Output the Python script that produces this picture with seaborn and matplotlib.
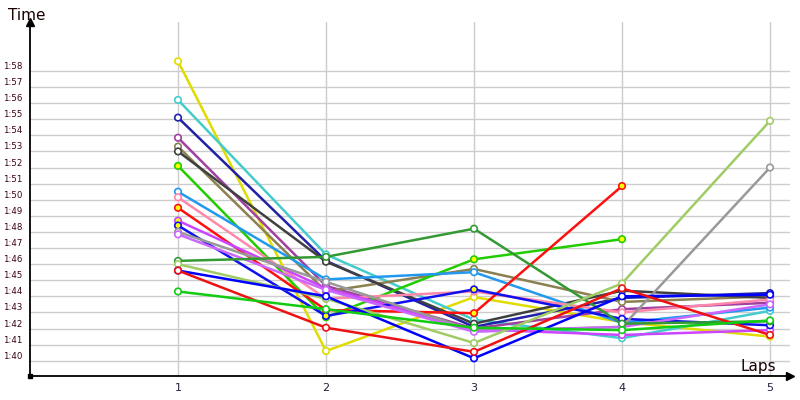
import seaborn as sns
import matplotlib.pyplot as plt
import matplotlib.transforms as mtransforms
import pandas as pd

# -----------------------------
# 1. Lap times (seconds)
# -----------------------------
laps = [1, 2, 3, 4, 5]

drivers = ["D01", "D02", "D03", "D04", "D05", "D06", "D07", "D08", "D09", "D10",
           "D11", "D12", "D13", "D14", "D15", "D16", "D17", "D18", "D19"]

colours = ["#e0dc00", "#44cccc", "#2020a8", "#a040a0", "#8b8050", "#404040",
           "#22cc00", "#2299ee", "#ff88aa", "#ff1010", "#cc44ff", "#1010ee",
           "#999999", "#cc66ff", "#339933", "#a0cc66", "#0000ff", "#ee1111",
           "#11cc11"]

times = [
    [118.6, 100.6, 103.95, 102.4, 101.5],
    [116.2, 106.6, 102.55, 101.4, 103.1],
    [115.1, 106.2, 102.1, 103.9, 104.2],
    [113.85, 104.65, 102.0, 103.2, 103.6],
    [113.3, 104.3, 105.7, 103.65, 104.0],
    [113.0, 106.15, 102.3, 104.35, 103.9],
    [112.1, 102.7, 106.3, 107.55],
    [110.5, 105.05, 105.5, 102.35, 103.3],
    [110.15, 103.85, 104.3, 103.0, 103.8],
    [109.5, 103.15, 102.95, 110.85],
    [108.7, 104.5, 101.95, 101.6, 101.9],
    [108.4, 102.78, 104.43, 102.6, 102.2],
    [108.0, 104.9, 101.86, 102.1, 112.0],
    [107.85, 104.4, 101.8, 102.1, 103.5],
    [106.2, 106.45, 108.2, 102.3, 102.45],
    [106.0, 103.85, 101.1, 104.8, 114.9],
    [105.6, 104.0, 100.15, 104.0, 104.1],
    [105.6, 102.05, 100.55, 104.5, 101.6],
    [104.3, 103.2, 102.05, 101.9, 102.5],
]

# laps whose marker is filled yellow
yellow_laps = {"D07": [1, 3, 4], "D10": [1, 2, 3, 4], "D11": [1], "D12": [1, 2, 3]}

y_ticks = list(range(100, 119))
y_labels = [f"1:{s - 60:02d}" for s in y_ticks]
x_labels = ["1", "2", "3", "4", "5"]

rows = []
for d, t in zip(drivers, times):
    for lap, v in zip(laps, t):
        rows.append({"driver": d, "lap": lap, "time": v})
df = pd.DataFrame(rows)

# -----------------------------
# 2. Styling
# -----------------------------
sns.set_style("white")
plt.rcParams["font.family"] = ["DejaVu Sans"]

fig = plt.figure(figsize=(8, 4), dpi=100)
ax = fig.add_axes([30 / 800, 24 / 400, 760 / 800, 354 / 400])

# -----------------------------
# 3. Lines and markers
# -----------------------------
sns.lineplot(data=df, x="lap", y="time", hue="driver", hue_order=drivers,
             palette=colours, linewidth=1.8, legend=False, sort=False,
             estimator=None, ax=ax, zorder=3)

for d, c in zip(drivers, colours):
    sub = df[df.driver == d]
    face = ["#ffff00" if lap in yellow_laps.get(d, []) else "white" for lap in sub.lap]
    ax.scatter(sub.lap, sub.time, s=22, facecolors=face, edgecolors=c,
               linewidths=1.2, zorder=4)

# -----------------------------
# 4. Axes
# -----------------------------
ax.set_xlim(0, 5.135)
ax.set_ylim(99.05, 121.04)
ax.set_xticks(laps)
ax.set_xticklabels(x_labels, fontsize=8, color="#202040")
ax.set_yticks(y_ticks)
ax.set_yticklabels(y_labels, fontsize=6.2, color="#3a0010")
ax.tick_params(length=0, axis="y", pad=5.5)
ax.tick_params(length=0, axis="x", pad=5)
shift = mtransforms.ScaledTranslation(0, 0.055, fig.dpi_scale_trans)
for lab in ax.get_yticklabels():
    lab.set_transform(lab.get_transform() + shift)

ax.grid(True, color="#cccccc", linewidth=1)
ax.set_axisbelow(True)
ax.set_xlabel("")
ax.set_ylabel("")
for side in ["top", "right"]:
    ax.spines[side].set_visible(False)
for side in ["left", "bottom"]:
    ax.spines[side].set_color("black")
    ax.spines[side].set_linewidth(1.3)

# arrow heads and origin square
ax.plot([0], [121.04], marker="^", color="black", markersize=6, clip_on=False, zorder=5)
ax.plot([5.135], [99.05], marker=">", color="black", markersize=6, clip_on=False, zorder=5)
ax.plot([0], [99.05], marker="s", color="black", markersize=3.5, clip_on=False, zorder=5)

fig.text(8 / 800, 1 - 16 / 400, "Time", fontsize=11, va="center", ha="left", color="#1a0000")
fig.text(758 / 800, 1 - 366 / 400, "Laps", fontsize=11, va="center", ha="center", color="#1a0000")

fig.savefig("out.png", dpi=100)
plt.close()
